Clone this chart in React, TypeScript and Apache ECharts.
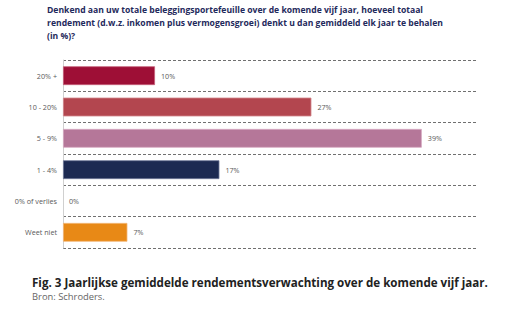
import React, { useEffect, useRef } from "react";
import * as echarts from "echarts";

const categories = ["20% +", "10 - 20%", "5 - 9%", "1 - 4%", "0% of verlies", "Weet niet"];
const values = [10, 27, 39, 17, 0, 7];
const colors = ["#9E0F36", "#B3464F", "#B57799", "#1C2A52", "#888888", "#E88916"];
const borderColors = ["#C5607A", "#D2878C", "#D7A9C1", "#6F7A99", "#888888", "#F2B77A"];

const titleLines = [
  "Denkend aan uw totale beleggingsportefeuille over de komende vijf jaar, hoeveel totaal",
  "rendement (d.w.z. inkomen plus vermogensgroei) denkt u dan gemiddeld elk jaar te behalen",
  "(in %)?",
];
const caption = "Fig. 3 Jaarlijkse gemiddelde rendementsverwachting over de komende vijf jaar.";
const source = "Bron: Schroders.";

export default function App() {
  const ref = useRef<HTMLDivElement>(null);
  useEffect(() => {
    const chart = echarts.init(ref.current!, null, { renderer: "svg" });
    chart.setOption({
      animation: false,
      backgroundColor: "#ffffff",
      grid: { left: 63, right: 51, top: 60, bottom: 82 },
      xAxis: {
        type: "value",
        min: 0,
        max: 45,
        show: false,
      },
      yAxis: {
        type: "category",
        data: categories,
        inverse: true,
        axisLine: { show: true, lineStyle: { color: "#D0D0D0", width: 1 } },
        axisTick: { show: false },
        axisLabel: {
          color: "#595959",
          fontSize: 7.2,
          fontFamily: "Open Sans",
          margin: 6,
        },
        splitLine: {
          show: true,
          lineStyle: { color: "#707070", type: [3, 2], width: 1 },
        },
      },
      graphic: [
        {
          type: "text",
          left: 47,
          top: 3,
          style: {
            text: titleLines.join("\n"),
            fill: "#1F2A5C",
            font: "bold 8.6px 'Open Sans'",
            lineHeight: 13,
          },
        },
        {
          type: "text",
          left: 32,
          top: 276,
          style: {
            text: caption,
            fill: "#222222",
            font: "bold 11.6px 'Open Sans'",
          },
        },
        {
          type: "text",
          left: 32,
          top: 292,
          style: {
            text: source,
            fill: "#666666",
            font: "9.4px 'Open Sans'",
          },
        },
      ],
      series: [
        {
          type: "bar",
          barCategoryGap: "40%",
          data: values.map((v, i) => ({
            value: v,
            itemStyle: { color: colors[i], borderColor: borderColors[i], borderWidth: v > 0 ? 0.8 : 0 },
          })),
          label: {
            show: true,
            position: "right",
            distance: 6,
            formatter: "{c}%",
            color: "#595959",
            fontSize: 7.2,
            fontFamily: "Open Sans",
          },
        },
      ],
    });
    return () => chart.dispose();
  }, []);
  return <div ref={ref} style={{ width: 528, height: 330, position: "absolute", left: 0, top: 0 }} />;
}
